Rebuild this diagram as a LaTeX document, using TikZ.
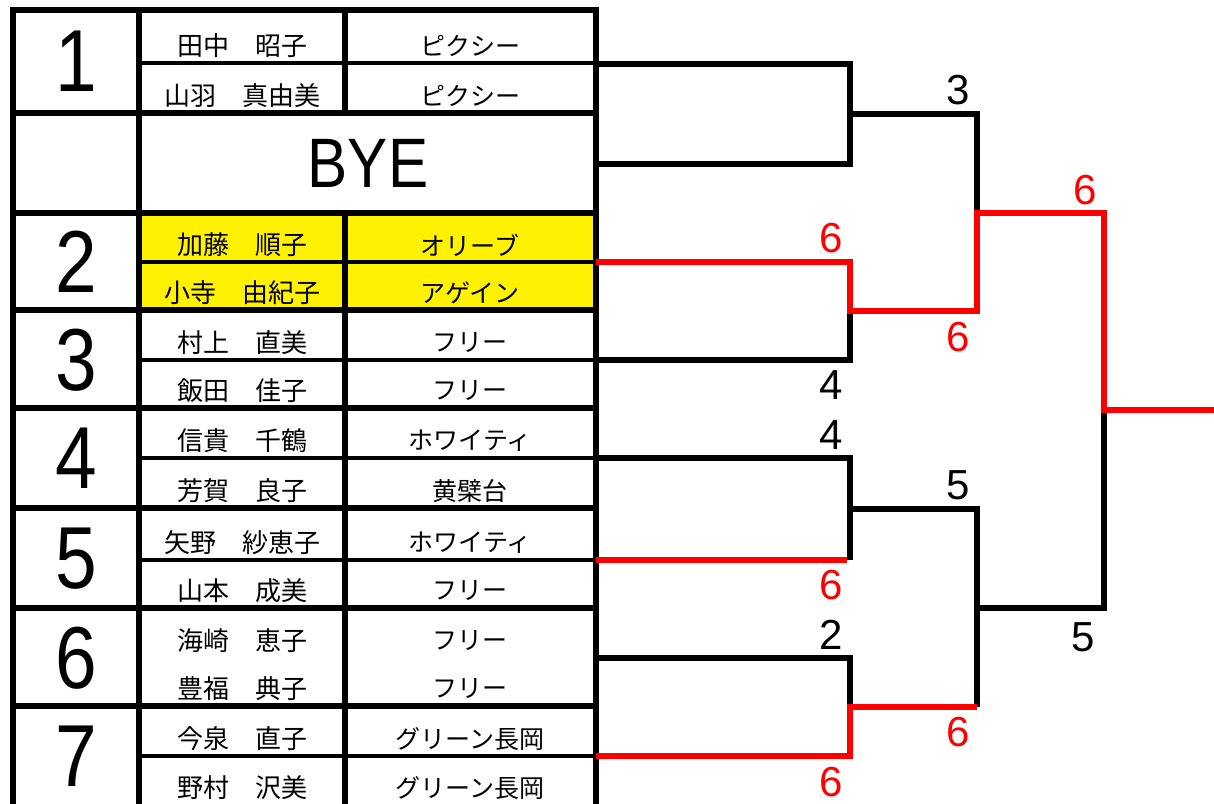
\documentclass[tikz,border=0pt]{standalone}
\usepackage{fontspec}
\setmainfont{Liberation Sans}
\newfontfamily\jp{Noto Sans CJK JP}
\begin{document}
\begin{tikzpicture}[x=1pt,y=-1pt,
  thickl/.style={line width=6pt,line cap=rect},
  thinl/.style={line width=4.2pt},
  brk/.style={line width=5.5pt,black,line join=miter},
  win/.style={line width=5.5pt,red,line join=miter},
  pname/.style={font=\jp\fontsize{26}{26}\selectfont,inner sep=0pt},
  tname/.style={font=\jp\fontsize{25}{25}\selectfont,inner sep=0pt},
  seed/.style={font=\fontsize{88}{88}\selectfont,inner sep=0pt,xscale=0.85,transform shape},
  bye/.style={font=\fontsize{70}{70}\selectfont,inner sep=0pt,xscale=0.86,transform shape},
  score/.style={font=\fontsize{42}{42}\selectfont,inner sep=0pt},
  rscore/.style={score,text=red}]
\useasboundingbox (0,0) rectangle (1214,803);
\fill[white] (0,0) rectangle (1214,803);
% yellow highlight
\fill[yellow] (139,213) rectangle (596,310);
% thin half-row lines
\foreach \yy in {63,262,360,458,560,756} \draw[thinl] (139,\yy) -- (596,\yy);
% thick horizontals
\foreach \yy in {10,113,213,310,408,508,608,706} \draw[thickl] (13,\yy) -- (596,\yy);
% verticals
\draw[thickl] (13,10) -- (13,806);
\draw[thickl] (139,10) -- (139,806);
\draw[thickl] (345,10) -- (345,113);
\draw[thickl] (345,213) -- (345,806);
\draw[thickl] (596,10) -- (596,806);
% seeds
\node[seed] (s1) at (76,61.5) {1};
\node[seed] (s2) at (76,261.5) {2};
\node[seed] (s3) at (76,360) {3};
\node[seed] (s4) at (76,458) {4};
\node[seed] (s5) at (76,559) {5};
\node[seed] (s6) at (76,658) {6};
\node[seed] (s7) at (76,756) {7};
\node[bye] (bye) at (368,163) {BYE};
% players
\node[pname] (p1a) at (242,46) {田中　昭子};
\node[pname] (p1b) at (242,96) {山羽　真由美};
\node[pname] (p2a) at (242,245) {加藤　順子};
\node[pname] (p2b) at (242,293) {小寺　由紀子};
\node[pname] (p3a) at (242,343) {村上　直美};
\node[pname] (p3b) at (242,391) {飯田　佳子};
\node[pname] (p4a) at (242,441) {信貴　千鶴};
\node[pname] (p4b) at (242,491) {芳賀　良子};
\node[pname] (p5a) at (242,543) {矢野　紗恵子};
\node[pname] (p5b) at (242,591) {山本　成美};
\node[pname] (p6a) at (242,641) {海崎　恵子};
\node[pname] (p6b) at (242,689) {豊福　典子};
\node[pname] (p7a) at (242,739) {今泉　直子};
\node[pname] (p7b) at (242,788) {野村　沢美};
% teams
\node[tname] (t1a) at (470,46) {ピクシー};
\node[tname] (t1b) at (470,96) {ピクシー};
\node[tname] (t2a) at (470,245) {オリーブ};
\node[tname] (t2b) at (470,293) {アゲイン};
\node[tname] (t3a) at (470,343) {フリー};
\node[tname] (t3b) at (470,391) {フリー};
\node[tname] (t4a) at (470,441) {ホワイティ};
\node[tname] (t4b) at (470,491) {黄檗台};
\node[tname] (t5a) at (470,543) {ホワイティ};
\node[tname] (t5b) at (470,591) {フリー};
\node[tname] (t6a) at (470,641) {フリー};
\node[tname] (t6b) at (470,689) {フリー};
\node[tname] (t7a) at (470,739) {グリーン長岡};
\node[tname] (t7b) at (470,788) {グリーン長岡};
% bracket coordinates
\coordinate (e1) at (596,64);   \coordinate (e2) at (596,164);
\coordinate (e3) at (596,262);  \coordinate (e4) at (596,360);
\coordinate (e5) at (596,458);  \coordinate (e6) at (596,560);
\coordinate (e7) at (596,658);  \coordinate (e8) at (596,756);
\coordinate (a1) at (850,64);   \coordinate (a2) at (850,164);  \coordinate (am) at (850,114);
\coordinate (b1) at (850,262);  \coordinate (b2) at (850,360);  \coordinate (bm) at (850,311);
\coordinate (c1) at (850,458);  \coordinate (c2) at (850,560);  \coordinate (cm) at (850,509);
\coordinate (d1) at (850,658);  \coordinate (d2) at (850,756);  \coordinate (dm) at (850,707);
\coordinate (f1) at (977,114);  \coordinate (f2) at (977,311);  \coordinate (fm) at (977,213);
\coordinate (g1) at (977,509);  \coordinate (g2) at (977,707);  \coordinate (gm) at (977,608);
\coordinate (h1) at (1104,213); \coordinate (h2) at (1104,608); \coordinate (hm) at (1104,410);
\coordinate (win) at (1214,410);
% black bracket lines
\draw[brk] (e1) -- (a1) -- (a2) -- (e2);
\draw[brk] (am) -- (f1) -- (fm);
\draw[brk] (bm) -- (b2) -- (e4);
\draw[brk] (e5) -- (c1) -- (c2);
\draw[brk] (cm) -- (g1) -- (g2);
\draw[brk] (gm) -- (h2) -- (hm);
\draw[brk] (e7) -- (d1) -- (dm);
% winner lines
\draw[win] (e3) -- (b1) -- (bm) -- (f2) -- (fm) -- (h1) -- (hm) -- (win);
\draw[win] (e6) -- (847,560);
\draw[win] (e8) -- (d2) -- (dm) -- (g2);
% scores
\node[score] (k1) at (958,90) {3};
\node[rscore] (k2) at (831,238) {6};
\node[rscore] (k3) at (958,337) {6};
\node[score] (k4) at (831,385) {4};
\node[rscore] (k5) at (1085,190) {6};
\node[score] (k6) at (831,435) {4};
\node[score] (k7) at (958,485) {5};
\node[rscore] (k8) at (831,585) {6};
\node[score] (k9) at (831,635) {2};
\node[rscore] (k10) at (958,732) {6};
\node[rscore] (k11) at (831,782) {6};
\node[score] (k12) at (1083,637) {5};
\end{tikzpicture}
\end{document}
